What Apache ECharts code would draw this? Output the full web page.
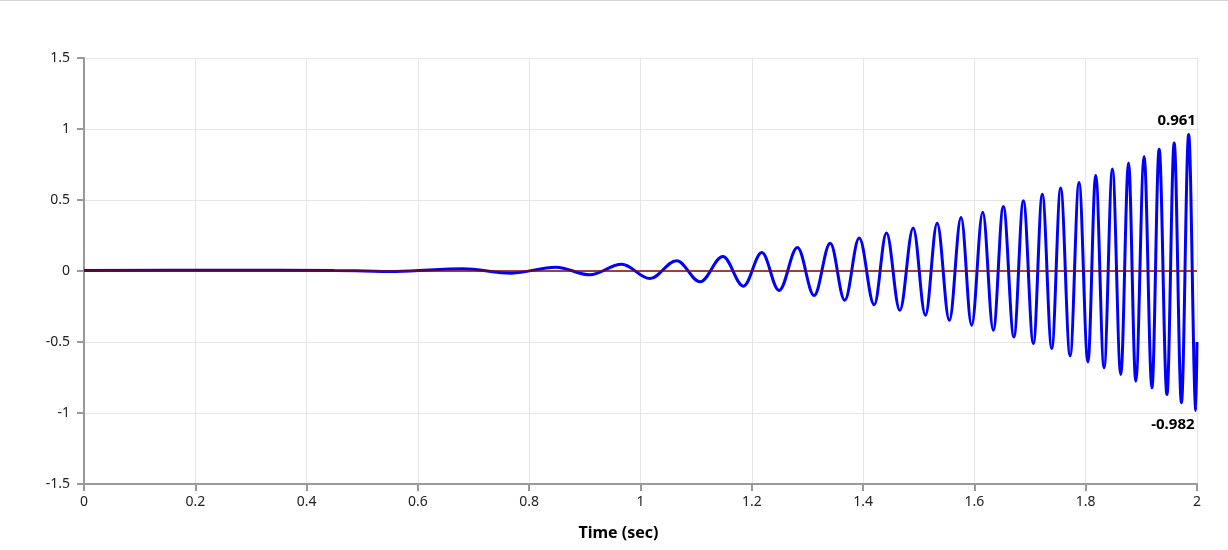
<!DOCTYPE html>
<html>
<head>
<meta charset="utf-8">
<script src="https://cdn.jsdelivr.net/npm/echarts@6/dist/echarts.min.js"></script>
<style>
html,body{margin:0;padding:0;background:#fff;}
#chart{width:1228px;height:550px;}
</style>
</head>
<body>
<div id="chart"></div>
<script>
// Extrema (peaks / troughs)
const times = [
  0, 0.25, 0.45, 0.56, 0.681, 0.768, 0.848, 0.909, 0.966, 1.017,
  1.065, 1.107, 1.148, 1.185, 1.218, 1.249, 1.282, 1.312, 1.341, 1.367,
  1.393, 1.420, 1.442, 1.466, 1.490, 1.512, 1.533, 1.555, 1.576, 1.595,
  1.615, 1.634, 1.652, 1.671, 1.688, 1.706, 1.722, 1.739, 1.755, 1.772,
  1.788, 1.804, 1.818, 1.833, 1.848, 1.863, 1.877, 1.890, 1.905, 1.919,
  1.932, 1.946, 1.959, 1.972, 1.985, 1.998, 2.0
];
const values = [
  0.004, 0.005, 0.004, -0.003, 0.016, -0.015, 0.027, -0.027, 0.048, -0.053,
  0.073, -0.076, 0.102, -0.107, 0.130, -0.137, 0.165, -0.172, 0.196, -0.206,
  0.232, -0.238, 0.267, -0.277, 0.302, -0.312, 0.337, -0.347, 0.376, -0.382,
  0.414, -0.417, 0.455, -0.464, 0.495, -0.511, 0.541, -0.546, 0.584, -0.598,
  0.624, -0.640, 0.673, -0.682, 0.718, -0.729, 0.760, -0.776, 0.807, -0.823,
  0.858, -0.870, 0.901, -0.927, 0.961, -0.982, -0.5
];
const zeroLine = [[0, 0], [2, 0]];
const xTickLabels = ['0','0.2','0.4','0.6','0.8','1','1.2','1.4','1.6','1.8','2'];
const yTickLabels = ['-1.5','-1','-0.5','0','0.5','1','1.5'];
const xAxisName = 'Time (sec)';

const FONT = "'Noto Sans', 'Open Sans', sans-serif";
const signal = times.map((t, i) => [t, values[i]]);

const chart = echarts.init(document.getElementById('chart'), null, {renderer: 'canvas'});
chart.setOption({
  animation: false,
  backgroundColor: '#fff',
  graphic: [{
    type: 'rect', left: 0, top: 0,
    shape: {width: 1228, height: 1},
    style: {fill: '#d4d4d8'}
  }],
  grid: {left: 84, right: 31, top: 58, bottom: 66, containLabel: false},
  xAxis: {
    type: 'value', min: 0, max: 2, interval: 0.2,
    name: xAxisName, nameLocation: 'middle', nameGap: 41,
    nameTextStyle: {fontFamily: FONT, fontSize: 16, fontWeight: 'bold', color: '#000', padding: [0, 44, 0, 0]},
    axisLine: {show: true, onZero: false, lineStyle: {color: '#999', width: 2}},
    axisTick: {show: true, length: 7, lineStyle: {color: '#999', width: 2}},
    axisLabel: {
      fontFamily: FONT, fontSize: 14, color: '#222', margin: 11,
      formatter: v => xTickLabels[Math.round(v / 0.2)]
    },
    splitLine: {show: true, lineStyle: {color: '#e6e6e6', width: 1}}
  },
  yAxis: {
    type: 'value', min: -1.5, max: 1.5, interval: 0.5,
    axisLine: {show: true, onZero: false, lineStyle: {color: '#999', width: 2}},
    axisTick: {show: true, length: 7, lineStyle: {color: '#999', width: 2}},
    axisLabel: {
      fontFamily: FONT, fontSize: 14, color: '#222', margin: 14,
      formatter: v => yTickLabels[Math.round((v + 1.5) / 0.5)]
    },
    splitLine: {show: true, lineStyle: {color: '#e6e6e6', width: 1}}
  },
  series: [
    {
      type: 'line', data: signal, showSymbol: false, symbol: 'none',
      smooth: 0.36, smoothMonotone: 'x',
      lineStyle: {color: '#0000ff', width: 3},
      z: 2,
      markPoint: {
        symbol: 'circle', symbolSize: 0,
        data: [
          {type: 'max', label: {position: 'top', offset: [-12, -1]}},
          {type: 'min', label: {position: 'bottom', offset: [-23, 2]}}
        ],
        label: {
          show: true, fontFamily: FONT, fontSize: 15, fontWeight: 'bold', color: '#000',
          formatter: p => p.value.toFixed(3)
        }
      }
    },
    {
      type: 'line', data: zeroLine, showSymbol: false, symbol: 'none',
      lineStyle: {color: '#8b0000', width: 1.5},
      z: 3
    }
  ]
});
</script>
</body>
</html>
